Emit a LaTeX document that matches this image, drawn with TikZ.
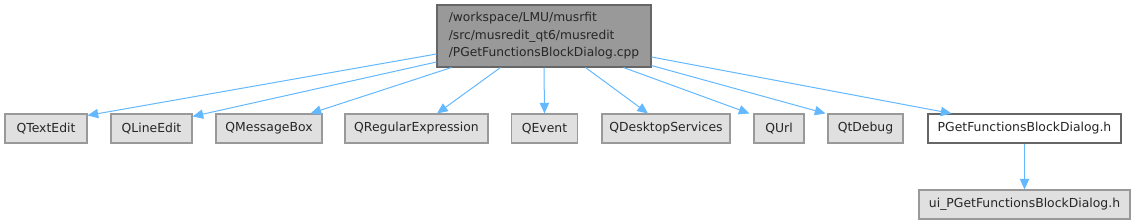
\documentclass[tikz,border=0pt]{standalone}
\usepackage{fontspec}
\setmainfont{DejaVu Sans}
\usetikzlibrary{arrows.meta}
\definecolor{edgeblue}{HTML}{63B8FF}
\definecolor{boxgray}{HTML}{E0E0E0}
\definecolor{boxborder}{HTML}{999999}
\definecolor{topfill}{HTML}{999999}
\definecolor{darkborder}{HTML}{666666}
\tikzset{
  ext/.style={draw=boxborder, fill=boxgray, line width=0.8pt, inner sep=0pt,
    minimum height=21.75pt, font=\fontsize{9.3pt}{11pt}\selectfont, text=black!85},
  mainbox/.style={draw=darkborder, fill=topfill, line width=0.8pt, inner sep=0pt,
    minimum width=160.5pt, minimum height=46.5pt, align=left,
    font=\fontsize{9.2pt}{13.1pt}\selectfont, text=black!85},
  localbox/.style={draw=darkborder, fill=white, line width=0.8pt, inner sep=0pt,
    minimum height=21.75pt, font=\fontsize{9.3pt}{11pt}\selectfont, text=black!85},
  dep/.style={draw=edgeblue, line width=0.75pt, -{Triangle[length=8pt,width=7pt]}},
}
\begin{document}
\begin{tikzpicture}[x=0.75pt, y=-0.75pt]
\useasboundingbox (0,0) rectangle (1135,224);
\node[mainbox] (top) at (544,36) {/workspace/LMU/musrfit\\/src/musredit\_qt6/musredit\\/PGetFunctionsBlockDialog.cpp};
\node[ext, minimum width=61.5pt] (qtextedit) at (46,128.5) {QTextEdit};
\node[ext, minimum width=60.75pt] (qlineedit) at (151.5,128.5) {QLineEdit};
\node[ext, minimum width=79.5pt] (qmessagebox) at (269,128.5) {QMessageBox};
\node[ext, minimum width=107.25pt] (qregexp) at (416.5,128.5) {QRegularExpression};
\node[ext, minimum width=49.5pt] (qevent) at (544.5,128.5) {QEvent};
\node[ext, minimum width=96pt] (qdesk) at (666,128.5) {QDesktopServices};
\node[ext, minimum width=37.5pt] (qurl) at (779,128.5) {QUrl};
\node[ext, minimum width=56.25pt] (qtdebug) at (865.5,128.5) {QtDebug};
\node[localbox, minimum width=144.75pt] (pgeth) at (1024.5,128.5) {PGetFunctionsBlockDialog.h};
\node[ext, minimum width=158.25pt] (ui) at (1024.5,204.5) {ui\_PGetFunctionsBlockDialog.h};

\draw[dep] ([yshift=-13.5pt]top.west) -- ([yshift=-1.5pt]qtextedit.north east);
\draw[dep] ([yshift=-19.5pt]top.west) -- ([yshift=-2.25pt]qlineedit.north east);
\draw[dep] ([xshift=11.25pt]top.south west) -- ([xshift=-9pt]qmessagebox.north east);
\draw[dep] ([xshift=48pt]top.south west) -- ([xshift=15.4pt]qregexp.north);
\draw[dep] (top.south) -- (qevent.north);
\draw[dep] ([xshift=-49.5pt]top.south east) -- ([xshift=-13.5pt]qdesk.north);
\draw[dep] ([xshift=-21pt]top.south east) -- ([xshift=-3pt]qurl.north west);
\draw[dep] ([yshift=1.5pt]top.south east) -- ([xshift=-1.5pt]qtdebug.north west);
\draw[dep] ([yshift=-15.75pt]top.east) -- ([xshift=18pt]pgeth.north west);
\draw[dep] (pgeth.south) -- (ui.north);
\end{tikzpicture}
\end{document}
